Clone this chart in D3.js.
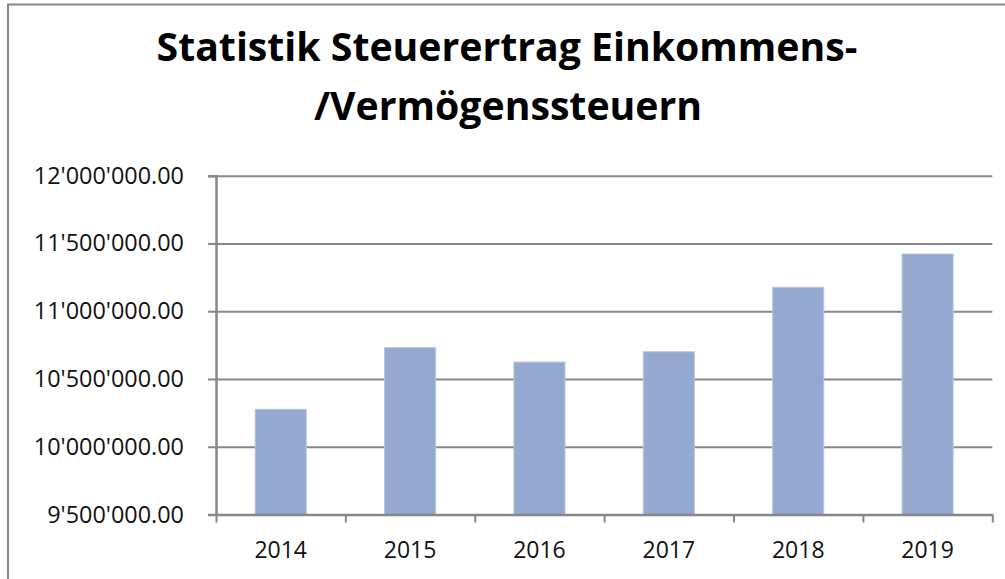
<!DOCTYPE html>
<html>
<head>
<meta charset="utf-8">
<script src="https://cdn.jsdelivr.net/npm/d3@7"></script>
<style>
  html, body { margin: 0; padding: 0; background: #fff; overflow: hidden; }
  #wrapper { width: 1005px; height: 579px; }
</style>
</head>
<body>
<div id="wrapper"></div>
<script>
/*global d3*/

// data
const years = ["2014", "2015", "2016", "2017", "2018", "2019"]
const revenue = [10276000, 10731000, 10625000, 10701000, 11177000, 11422000]
const yTicks = [9500000, 10000000, 10500000, 11000000, 11500000, 12000000]
const titleLines = ["Statistik Steuerertrag Einkommens-", "/Vermögenssteuern"]

function drawChart() {

    const dataset = years.map((y, i) => ({ year: y, value: revenue[i] }))
    const xAccessor = d => d.year
    const yAccessor = d => d.value

    // 2. chart dims
    let dims = {
        width: 1005,
        height: 579,
        margin: {
            top: 175.7,
            right: 12.7,
            bottom: 64.5,
            left: 216,
        }
    }
    dims.boundedWidth = dims.width - dims.margin.left - dims.margin.right
    dims.boundedHeight = dims.height - dims.margin.top - dims.margin.bottom

    const gray = "#878787"
    const font = "'Open Sans', 'Liberation Sans', sans-serif"

    // 3. canvas
    const wrapper = d3.select("#wrapper")
        .append("svg")
        .attr("width", dims.width)
        .attr("height", dims.height)

    // chart border (runs off the right and bottom edges)
    wrapper.append("rect")
        .attr("x", 8)
        .attr("y", 4.5)
        .attr("width", 1010)
        .attr("height", 600)
        .attr("fill", "white")
        .attr("stroke", gray)
        .attr("stroke-width", 2)

    // title, two lines, fitted to the reference widths
    const title = wrapper.append("g")
        .attr("font-family", font)
        .attr("font-weight", "bold")
        .attr("fill", "#000")
        .attr("text-anchor", "middle")

    const line1 = title.append("text")
        .attr("x", 507)
        .attr("y", 61)
        .style("font-size", "36px")
        .text(titleLines[0])
    const fitted = 36 * 701 / line1.node().getComputedTextLength()
    line1.style("font-size", fitted + "px")

    title.append("text")
        .attr("x", 508)
        .attr("y", 120)
        .style("font-size", fitted + "px")
        .text(titleLines[1])

    const bounds = wrapper.append("g")
        .attr("transform", `translate(${dims.margin.left}, ${dims.margin.top})`)

    // 4. scales
    const xScale = d3.scaleBand()
        .domain(dataset.map(xAccessor))
        .range([0, dims.boundedWidth])
        .paddingInner(0.605)
        .paddingOuter(0.3025)

    const xEdge = d3.scaleLinear()
        .domain([0, years.length])
        .range([0, dims.boundedWidth])

    const yScale = d3.scaleLinear()
        .domain([yTicks[0], yTicks[yTicks.length - 1]])
        .range([dims.boundedHeight, 0])

    // gridlines
    const grid = bounds.append("g")
        .call(d3.axisLeft(yScale)
            .tickValues(yTicks)
            .tickSize(-dims.boundedWidth)
            .tickFormat(""))
    grid.select(".domain").remove()
    grid.selectAll(".tick line")
        .attr("stroke", gray)
        .attr("stroke-width", 2)

    // 5. bars
    bounds.selectAll("rect.bar")
        .data(dataset)
        .join("rect")
        .attr("class", "bar")
        .attr("x", d => xScale(xAccessor(d)))
        .attr("y", d => yScale(yAccessor(d)))
        .attr("width", xScale.bandwidth())
        .attr("height", d => dims.boundedHeight - yScale(yAccessor(d)))
        .attr("fill", "#95a9d0")
        .attr("stroke", "#b8c6e3")
        .attr("stroke-width", 1)

    // peripherals
    const fmt = v => d3.format(",.2f")(v).replace(/,/g, "'")

    const yAxis = bounds.append("g")
        .call(d3.axisLeft(yScale)
            .tickValues(yTicks)
            .tickSize(8)
            .tickPadding(24)
            .tickFormat(fmt))
    yAxis.select(".domain")
        .attr("stroke", gray)
        .attr("stroke-width", 2.5)
    yAxis.selectAll(".tick line")
        .attr("stroke", gray)
        .attr("stroke-width", 2)
    yAxis.selectAll("text")
        .attr("font-family", font)
        .style("font-size", "23.4px")
        .attr("fill", "#111")

    const xTicks = bounds.append("g")
        .attr("transform", `translate(0, ${dims.boundedHeight})`)
        .call(d3.axisBottom(xEdge)
            .ticks(years.length)
            .tickSize(8)
            .tickSizeOuter(0)
            .tickFormat(""))
    xTicks.select(".domain")
        .attr("stroke", gray)
        .attr("stroke-width", 2.5)
    xTicks.selectAll(".tick line")
        .attr("stroke", gray)
        .attr("stroke-width", 2)

    const xLabels = bounds.append("g")
        .attr("transform", `translate(0, ${dims.boundedHeight})`)
        .call(d3.axisBottom(xScale).tickSize(0))
    xLabels.select(".domain").remove()
    xLabels.selectAll("text")
        .attr("y", 43)
        .attr("dy", 0)
        .attr("font-family", font)
        .style("font-size", "23px")
        .attr("fill", "#111")
}

drawChart()
</script>
</body>
</html>
